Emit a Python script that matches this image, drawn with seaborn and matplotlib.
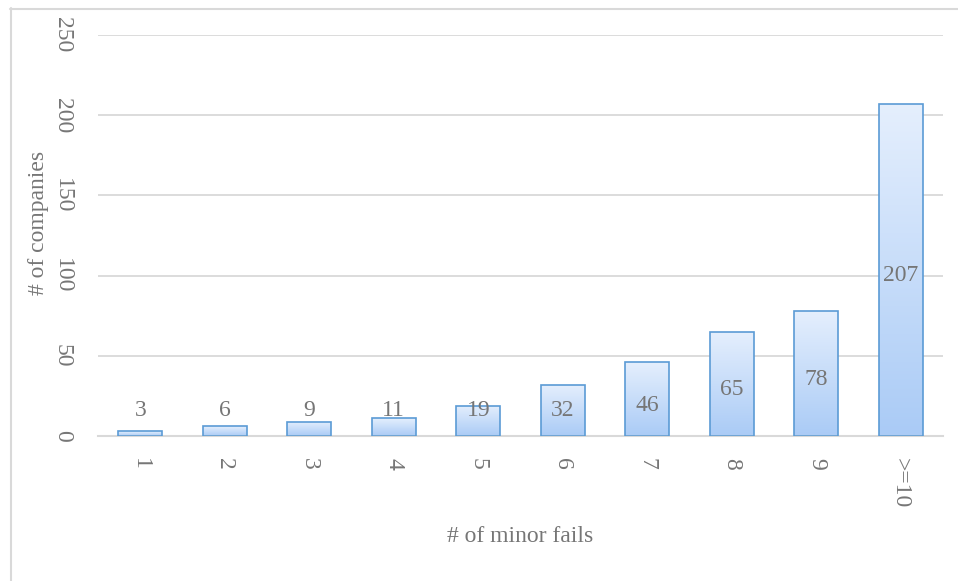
import numpy as np
import pandas as pd
import matplotlib
matplotlib.use("Agg")
import matplotlib.pyplot as plt
from matplotlib.colors import LinearSegmentedColormap
from matplotlib.lines import Line2D
import seaborn as sns

# data
categories = ["1", "2", "3", "4", "5", "6", "7", "8", "9", ">=10"]
counts = [3, 6, 9, 11, 19, 32, 46, 65, 78, 207]

df = pd.DataFrame({"fails": categories, "companies": counts})

sns.set_style("white")
plt.rcParams["font.family"] = ["Liberation Serif", "DejaVu Serif"]

text_col = "#767676"
grid_col = "#d9d9d9"
edge_col = "#5b9bd5"

fig = plt.figure(figsize=(9.58, 5.81), dpi=100)
ax = fig.add_axes([98 / 958, 145 / 581, (943 - 98) / 958, (546 - 145) / 581])

sns.barplot(data=df, x="fails", y="companies", color="#c9dcf7", width=0.52,
            edgecolor=edge_col, linewidth=1.2, ax=ax, zorder=3)

# vertical gradient inside each bar (light at top, deeper at bottom)
grad_cmap = LinearSegmentedColormap.from_list("g", ["#aacbf6", "#e5effd"])
grad = np.linspace(0, 1, 256).reshape(-1, 1)
for p in ax.patches:
    x0, w, h = p.get_x(), p.get_width(), p.get_height()
    im = ax.imshow(grad, extent=[x0, x0 + w, 0, h], origin="lower",
                   aspect="auto", cmap=grad_cmap, zorder=2.5)
    im.set_clip_path(p)
    p.set_facecolor("none")

# value labels: centred in the bar, kept above the axis for short bars
for i, v in enumerate(counts):
    ax.text(i, max(v / 2 - 3.7, 15.6), str(v), ha="center", va="center",
            fontsize=17, color=text_col, zorder=5)

ax.set_xlim(-0.5, len(categories) - 0.5)
ax.set_ylim(0, 250)
ax.set_yticks(range(0, 251, 50))
ax.yaxis.grid(True, color=grid_col, linewidth=1.3, zorder=0)
ax.set_axisbelow(True)

for s in ["top", "right", "left"]:
    ax.spines[s].set_visible(False)
ax.spines["bottom"].set_color(grid_col)
ax.spines["bottom"].set_linewidth(1.5)

ax.tick_params(axis="both", length=0, colors=text_col, labelsize=17)
ax.tick_params(axis="x", pad=16)
ax.tick_params(axis="y", pad=18)
plt.setp(ax.get_xticklabels(), rotation=-90, va="top", ha="center")
plt.setp(ax.get_yticklabels(), rotation=-90, va="center", ha="right")

ax.set_xlabel("# of minor fails", fontsize=17, color=text_col)
ax.set_ylabel("# of companies", fontsize=17, color=text_col)
ax.xaxis.set_label_coords(0.5, -0.225)
ax.yaxis.set_label_coords(-0.058, 0.531)

# light chart-area frame (only left and top edges are in view)
fig.add_artist(Line2D([10.5 / 958, 10.5 / 958], [0, 1 - 8 / 581],
                      transform=fig.transFigure, color=grid_col, lw=1.5))
fig.add_artist(Line2D([10 / 958, 1], [1 - 8.5 / 581, 1 - 8.5 / 581],
                      transform=fig.transFigure, color=grid_col, lw=1.5))

fig.savefig("out.png", dpi=100)
